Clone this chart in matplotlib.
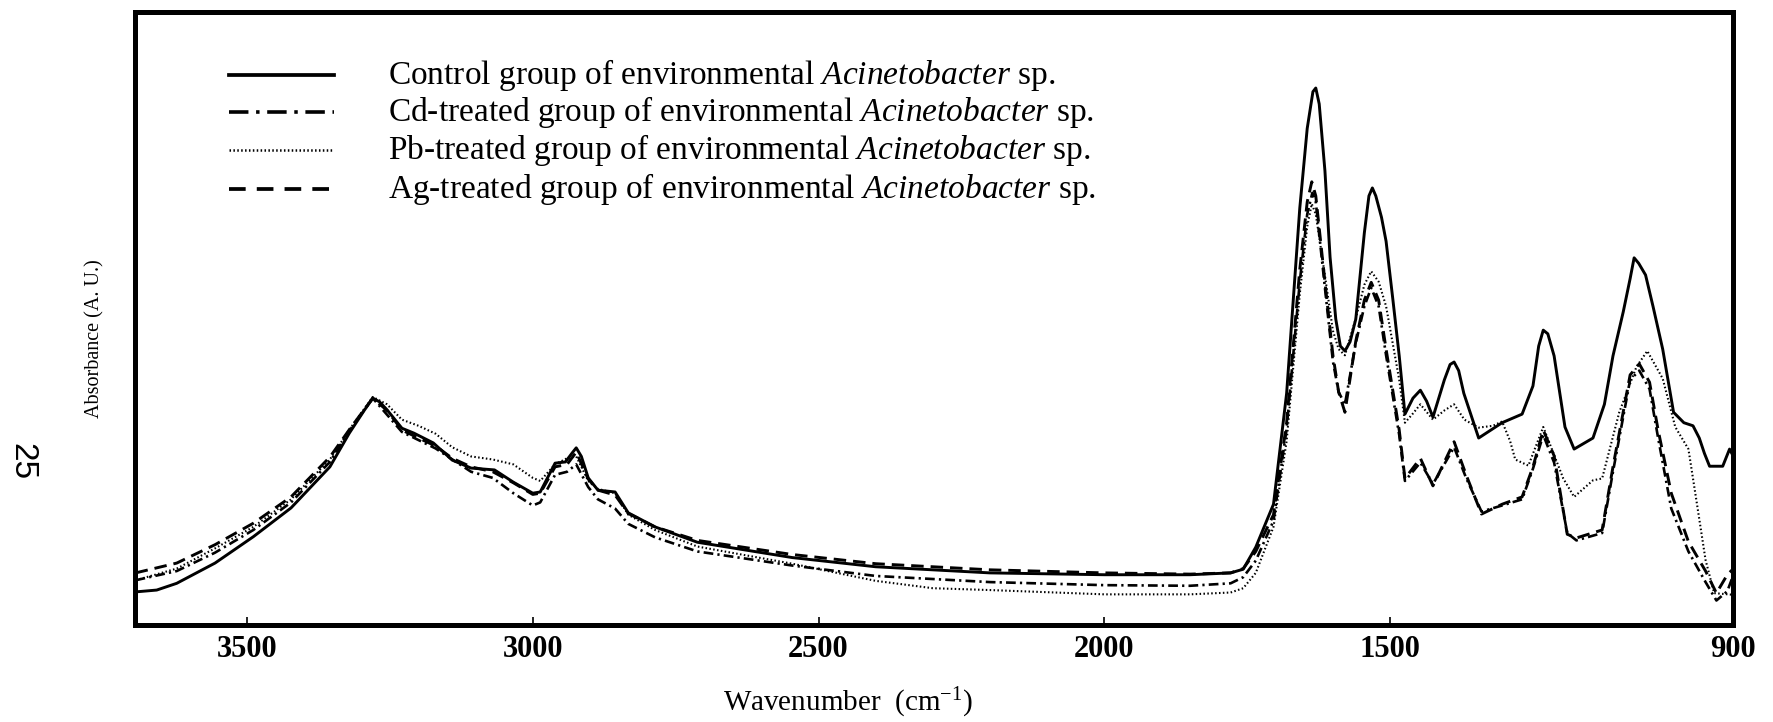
import numpy as np
import matplotlib.pyplot as plt
from matplotlib.lines import Line2D

plt.rcParams['font.family'] = ['Liberation Serif', 'DejaVu Serif']
plt.rcParams['mathtext.fontset'] = 'custom'
plt.rcParams['mathtext.rm'] = 'Liberation Serif'
plt.rcParams['mathtext.it'] = 'Liberation Serif:italic'
plt.rcParams['lines.scale_dashes'] = False

# =========================
# data (wavenumber cm-1, absorbance a.u.)
# =========================

ctrl_wn = [3695, 3658, 3623, 3556, 3489, 3423, 3355, 3321, 3295, 3280, 3268, 3255, 3229, 3208,
           3174, 3141, 3108, 3067, 3034, 3000, 2987, 2961, 2943, 2930, 2924, 2915, 2903, 2886,
           2856, 2833, 2786, 2712, 2546, 2400, 2200, 2000, 1850, 1779, 1757, 1735, 1704, 1681,
           1658, 1645, 1635, 1630, 1624, 1614, 1605, 1595, 1587, 1579, 1570, 1560, 1545, 1537,
           1531, 1525, 1515, 1507, 1495, 1484, 1474, 1460, 1447, 1436, 1425, 1405, 1395, 1388,
           1380, 1371, 1345, 1304, 1269, 1250, 1240, 1232, 1224, 1213, 1194, 1178, 1145, 1125,
           1110, 1092, 1080, 1073, 1065, 1053, 1040, 1023, 1004, 986, 970, 959, 950, 941, 918,
           906, 896]
ctrl_abs = [0.054, 0.057, 0.068, 0.101, 0.144, 0.191, 0.258, 0.313, 0.350, 0.370, 0.364, 0.351,
            0.321, 0.313, 0.297, 0.269, 0.256, 0.253, 0.233, 0.215, 0.217, 0.264, 0.266, 0.282,
            0.289, 0.275, 0.240, 0.220, 0.217, 0.183, 0.160, 0.135, 0.110, 0.095, 0.085, 0.082,
            0.082, 0.085, 0.091, 0.127, 0.197, 0.378, 0.680, 0.810, 0.870, 0.876, 0.850, 0.741,
            0.600, 0.499, 0.455, 0.447, 0.462, 0.499, 0.640, 0.700, 0.713, 0.700, 0.665, 0.626,
            0.530, 0.439, 0.344, 0.370, 0.383, 0.365, 0.339, 0.400, 0.425, 0.429, 0.415, 0.378,
            0.305, 0.330, 0.344, 0.390, 0.455, 0.481, 0.475, 0.439, 0.323, 0.287, 0.305, 0.360,
            0.439, 0.511, 0.565, 0.599, 0.590, 0.571, 0.520, 0.450, 0.347, 0.330, 0.325, 0.305,
            0.280, 0.259, 0.259, 0.287, 0.269]

cd_wn = [3695, 3623, 3556, 3489, 3423, 3355, 3320, 3280, 3229, 3170, 3108, 3070, 3034, 3000,
         2987, 2961, 2940, 2924, 2903, 2886, 2856, 2833, 2786, 2712, 2546, 2400, 2200, 2000,
         1850, 1779, 1757, 1735, 1704, 1681, 1658, 1645, 1636, 1630, 1614, 1600, 1590, 1579,
         1560, 1545, 1533, 1520, 1507, 1484, 1474, 1447, 1425, 1388, 1367, 1340, 1304, 1269,
         1250, 1232, 1213, 1190, 1174, 1129, 1110, 1080, 1064, 1046, 1031, 1008, 978, 948, 929,
         910, 896]
cd_abs = [0.073, 0.088, 0.118, 0.155, 0.200, 0.266, 0.318, 0.370, 0.315, 0.288, 0.250, 0.240,
          0.215, 0.195, 0.200, 0.245, 0.250, 0.262, 0.225, 0.205, 0.190, 0.165, 0.143, 0.120,
          0.097, 0.080, 0.070, 0.065, 0.064, 0.068, 0.078, 0.105, 0.170, 0.320, 0.560, 0.670,
          0.705, 0.690, 0.550, 0.430, 0.380, 0.360, 0.460, 0.520, 0.550, 0.520, 0.440, 0.310,
          0.235, 0.265, 0.230, 0.290, 0.240, 0.185, 0.195, 0.205, 0.255, 0.310, 0.265, 0.150,
          0.138, 0.150, 0.250, 0.400, 0.415, 0.385, 0.305, 0.190, 0.120, 0.070, 0.040, 0.055,
          0.090]

pb_wn = [3695, 3623, 3556, 3489, 3423, 3355, 3320, 3280, 3255, 3229, 3200, 3170, 3141, 3108,
         3070, 3034, 3000, 2987, 2961, 2940, 2924, 2903, 2886, 2856, 2833, 2786, 2712, 2546,
         2400, 2300, 2200, 2000, 1850, 1779, 1757, 1735, 1704, 1681, 1658, 1645, 1637, 1630,
         1614, 1600, 1590, 1579, 1560, 1545, 1533, 1520, 1507, 1484, 1474, 1460, 1447, 1425,
         1405, 1388, 1370, 1345, 1320, 1304, 1290, 1281, 1258, 1232, 1197, 1178, 1145, 1129,
         1099, 1069, 1050, 1023, 1001, 978, 963, 948, 933, 896]
pb_abs = [0.073, 0.092, 0.125, 0.160, 0.205, 0.270, 0.320, 0.372, 0.360, 0.335, 0.325, 0.312,
          0.290, 0.275, 0.270, 0.262, 0.240, 0.235, 0.262, 0.272, 0.275, 0.235, 0.222, 0.215,
          0.180, 0.155, 0.128, 0.100, 0.072, 0.060, 0.057, 0.050, 0.050, 0.053, 0.060, 0.085,
          0.160, 0.300, 0.540, 0.650, 0.687, 0.670, 0.570, 0.480, 0.450, 0.440, 0.500, 0.555,
          0.577, 0.560, 0.520, 0.400, 0.330, 0.345, 0.360, 0.335, 0.350, 0.360, 0.335, 0.322,
          0.325, 0.332, 0.300, 0.270, 0.260, 0.323, 0.239, 0.209, 0.236, 0.239, 0.347, 0.421,
          0.447, 0.402, 0.323, 0.287, 0.197, 0.106, 0.052, 0.049]

ag_wn = [3695, 3623, 3556, 3489, 3423, 3355, 3320, 3280, 3255, 3229, 3200, 3170, 3141, 3108,
         3070, 3034, 3000, 2987, 2961, 2940, 2924, 2903, 2886, 2856, 2833, 2786, 2712, 2546,
         2400, 2200, 2000, 1850, 1779, 1757, 1735, 1704, 1681, 1658, 1645, 1637, 1630, 1614,
         1600, 1590, 1579, 1560, 1545, 1533, 1520, 1507, 1484, 1474, 1447, 1425, 1388, 1367,
         1340, 1304, 1269, 1250, 1232, 1213, 1190, 1174, 1129, 1110, 1080, 1064, 1046, 1031,
         1008, 978, 948, 929, 910, 896]
ag_abs = [0.085, 0.101, 0.131, 0.166, 0.209, 0.274, 0.320, 0.370, 0.350, 0.318, 0.305, 0.292,
          0.272, 0.258, 0.250, 0.232, 0.213, 0.215, 0.258, 0.262, 0.282, 0.238, 0.220, 0.212,
          0.182, 0.160, 0.138, 0.115, 0.100, 0.090, 0.085, 0.083, 0.085, 0.092, 0.120, 0.180,
          0.330, 0.580, 0.690, 0.723, 0.700, 0.560, 0.440, 0.380, 0.347, 0.463, 0.530, 0.559,
          0.530, 0.450, 0.318, 0.239, 0.272, 0.227, 0.299, 0.245, 0.181, 0.197, 0.209, 0.258,
          0.318, 0.276, 0.148, 0.142, 0.155, 0.258, 0.408, 0.426, 0.396, 0.318, 0.215, 0.136,
          0.088, 0.052, 0.082, 0.095]

labels = ["Control group of environmental $\\it{Acinetobacter}$ sp.",
          "Cd-treated group of environmental $\\it{Acinetobacter}$ sp.",
          "Pb-treated group of environmental $\\it{Acinetobacter}$ sp.",
          "Ag-treated group of environmental $\\it{Acinetobacter}$ sp."]

x_ticks = [3500, 3000, 2500, 2000, 1500, 900]

# =========================
# styles (plot lines / legend samples)
# =========================
styles = [
    dict(linestyle='-', linewidth=2.1),
    dict(linestyle=(0, (7, 3, 1.6, 3)), linewidth=1.9),
    dict(linestyle=(0, (1.1, 1.7)), linewidth=1.5),
    dict(linestyle=(0, (9, 5)), linewidth=2.1),
]
legend_styles = [
    dict(linestyle='-', linewidth=2.7),
    dict(linestyle=(0, (14, 5.5, 2.5, 5.5)), linewidth=2.6),
    dict(linestyle=(0, (1.1, 1.7)), linewidth=1.8),
    dict(linestyle=(0, (12, 8)), linewidth=2.7),
]

W, H = 1773, 722
fig = plt.figure(figsize=(W / 100, H / 100), dpi=100)
ax = fig.add_axes([135 / W, 1 - 625 / H, (1733 - 135) / W, (625 - 12) / H])

series = [(ctrl_wn, ctrl_abs), (cd_wn, cd_abs), (pb_wn, pb_abs), (ag_wn, ag_abs)]
for k in [2, 1, 3, 0]:
    wn, ab = series[k]
    ax.plot(wn, ab, color='black', zorder=3 + (k == 0), **styles[k])

ax.set_xlim(3696, 900)
ax.set_ylim(0, 1)
ax.set_yticks([])
ax.set_xticks(x_ticks)
ax.set_xticklabels([str(t) for t in x_ticks], fontsize=22, fontweight='bold')
ax.tick_params(axis='x', direction='in', length=6, width=1.2, pad=7)
for s in ax.spines.values():
    s.set_linewidth(3.6)

# legend drawn by hand to match the row spacing
row_y = [75, 112, 150, 189]
for k in range(4):
    y = 1 - row_y[k] / H
    fig.add_artist(Line2D([229 / W, 334 / W], [y, y], color='black', **legend_styles[k]))
    fig.text(388 / W, y, labels[k], fontsize=24, va='center', ha='left')

fig.text(848 / W, 1 - 703 / H, "Wavenumber  (cm$^{-1}$)", fontsize=21, ha='center', va='center')
fig.text(95 / W, 1 - 339 / H, "Absorbance (A. U.)", fontsize=14.5, rotation=90,
         ha='center', va='center')
fig.text(22 / W, 1 - 462 / H, "25", fontsize=24, rotation=-90, ha='center', va='center',
         family='Liberation Sans')

fig.savefig("out.png", dpi=100)
